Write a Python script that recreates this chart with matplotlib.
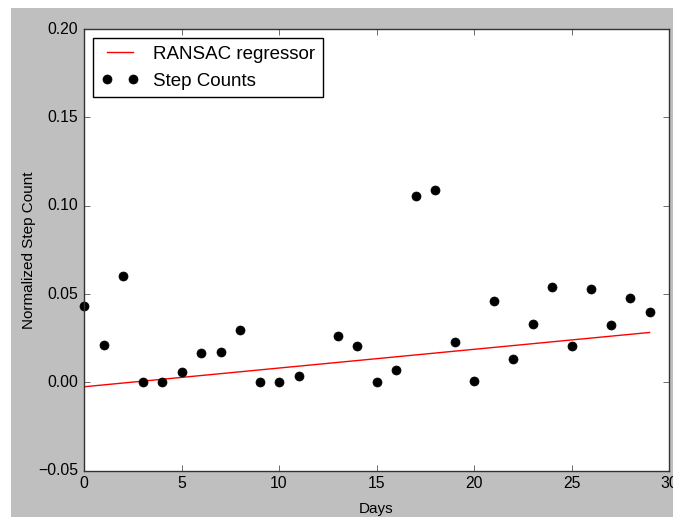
import matplotlib
matplotlib.use("Agg")
import matplotlib.pyplot as plt
from matplotlib.patches import Rectangle
import numpy as np

plt.style.use("classic")
plt.rcParams["font.family"] = ["Liberation Sans", "DejaVu Sans"]

# daily normalized step counts (day 12 missing)
days = [0, 1, 2, 3, 4, 5, 6, 7, 8, 9, 10, 11, 13, 14, 15,
        16, 17, 18, 19, 20, 21, 22, 23, 24, 25, 26, 27, 28, 29]
steps = [0.043, 0.021, 0.060, 0.000, 0.000, 0.0056, 0.0166, 0.0173, 0.0298,
         0.000, 0.000, 0.0035, 0.0265, 0.0207, 0.000,
         0.0069, 0.1057, 0.109, 0.0231, 0.001, 0.0462, 0.0133, 0.0332,
         0.054, 0.0207, 0.0528, 0.0324, 0.0475, 0.0396]

# RANSAC fit
intercept = -0.0025
slope = 0.00106

fig = plt.figure(figsize=(6.73, 5.17), dpi=100, facecolor="white")
fig.patches.append(Rectangle((11 / 673, -0.1), 1.2, 1.1 - 8 / 517, transform=fig.transFigure,
                             facecolor="#bfbfbf", edgecolor="none", zorder=-10))
ax = fig.add_axes([84 / 673, 1 - 470.7 / 517, 585 / 673, 441.7 / 517])

x = np.array(days)
line_x = np.array([x.min(), x.max()])
ax.plot(line_x, intercept + slope * line_x, color="red", linewidth=1, label="RANSAC regressor")
ax.plot(days, steps, "o", color="black", markersize=6.5, markeredgecolor="black",
        label="Step Counts", clip_on=False)

ax.set_xlim(0, 30)
ax.set_ylim(-0.05, 0.20)
ax.set_xticks([0, 5, 10, 15, 20, 25, 30])
ax.set_yticks([-0.05, 0.00, 0.05, 0.10, 0.15, 0.20])
ax.tick_params(labelsize=11.3, colors="#333333", labelcolor="black")
for s in ax.spines.values():
    s.set_color("#333333")
ax.set_xlabel("Days", fontsize=11, labelpad=7.5)
ax.set_ylabel("Normalized Step Count", fontsize=11, labelpad=1.5)
ax.legend(loc="upper left", fontsize=13.5, numpoints=2, fancybox=False)

fig.savefig("out.png", dpi=100, facecolor=fig.get_facecolor())
